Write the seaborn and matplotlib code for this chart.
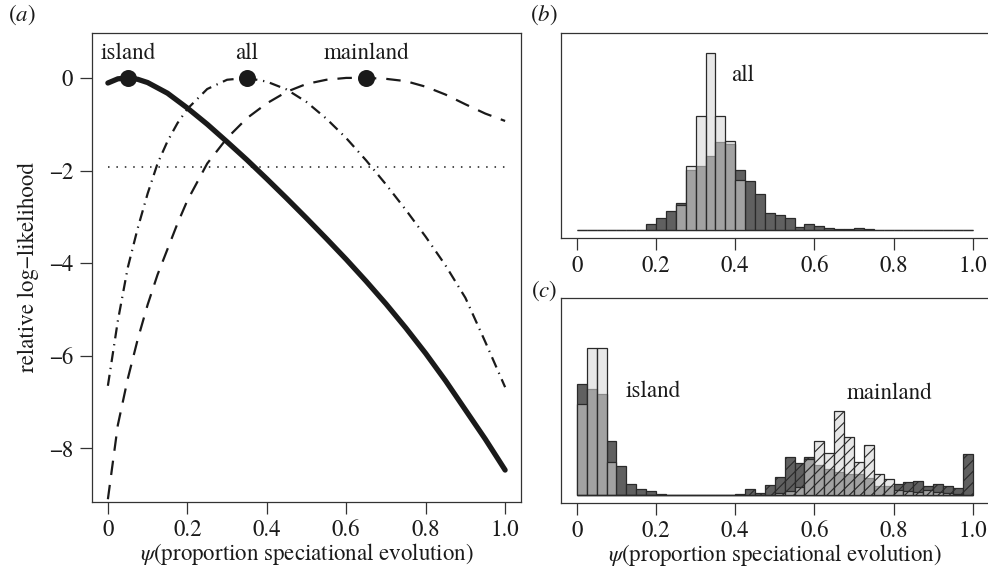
import numpy as np
import pandas as pd
import matplotlib
matplotlib.use("Agg")
import matplotlib.pyplot as plt
import seaborn as sns

# ---------------- data: panel (a) relative log-likelihood curves ----------------
psi_island = [0, 0.025, 0.05, 0.075, 0.1, 0.15, 0.2, 0.25, 0.3, 0.35, 0.4, 0.45,
              0.5, 0.55, 0.6, 0.65, 0.7, 0.75, 0.8, 0.85, 0.9, 0.95, 1.0]
ll_island = [-0.11, -0.02, 0.0, -0.03, -0.1, -0.33, -0.65, -1.0, -1.38, -1.77, -2.18, -2.6,
             -3.03, -3.47, -3.92, -4.39, -4.88, -5.4, -5.95, -6.54, -7.17, -7.8, -8.47]

psi_all = [0, 0.025, 0.05, 0.075, 0.1, 0.125, 0.15, 0.175, 0.2, 0.25, 0.3, 0.35, 0.4,
           0.45, 0.5, 0.55, 0.6, 0.65, 0.7, 0.75, 0.8, 0.85, 0.9, 0.95, 1.0]
ll_all = [-6.65, -5.25, -4.1, -3.25, -2.5, -1.85, -1.37, -0.98, -0.67, -0.24, -0.04, 0.0, -0.08,
          -0.25, -0.52, -0.88, -1.3, -1.78, -2.3, -2.85, -3.43, -4.05, -4.75, -5.7, -6.68]

psi_mainland = [0, 0.025, 0.05, 0.075, 0.1, 0.125, 0.15, 0.175, 0.2, 0.25, 0.3, 0.35, 0.4,
                0.45, 0.5, 0.55, 0.6, 0.65, 0.7, 0.75, 0.8, 0.85, 0.9, 0.95, 1.0]
ll_mainland = [-9.1, -7.5, -6.5, -5.65, -4.9, -4.25, -3.7, -3.15, -2.65, -1.85, -1.3, -0.87, -0.55,
               -0.3, -0.13, -0.04, 0.0, 0.0, -0.02, -0.07, -0.19, -0.36, -0.57, -0.77, -0.93]

peak_names = ["island", "all", "mainland"]
peak_psi = [0.05, 0.35, 0.65]
peak_ll = [0.0, 0.0, 0.0]
ci_threshold = -1.92

# ---------------- data: panels (b), (c) histograms (40 bins on [0, 1]) ----------------
n_bins = 40
bin_range = (0.0, 1.0)
bin_mids = [(i + 0.5) / n_bins for i in range(n_bins)]

all_dark = [0, 0, 0, 0, 0, 0, 0, 6.3, 11.7, 19, 27.3, 60.7, 64, 74, 88.7, 86.7, 60.7, 49.3,
            36, 17.3, 14.7, 12, 3.3, 5.7, 4.3, 2, 1, 0.7, 2, 1.3,
            0.3, 0.3, 0.3, 0.3, 0.3, 0.3, 0.3, 0.3, 0.3, 0.3]
all_light = [0, 0, 0, 0, 0, 0, 0, 0, 0, 0, 25.3, 64, 114, 178, 114, 89.3, 50.7, 0,
             0, 0, 0, 0, 0, 0, 0, 0, 0, 0, 0, 0, 0, 0, 0, 0, 0, 0, 0, 0, 0, 0]

island_dark = [111.3, 106.7, 101.7, 54, 29.7, 11, 5.7, 3.7, 1.3, 0.5, 0.5, 0.5, 0.5, 0.5,
               0.5, 0.5, 0.5, 0, 0, 0, 0, 0, 0, 0, 0, 0, 0, 0, 0, 0,
               0, 0, 0, 0, 0, 0, 0, 0, 0, 0]
island_light = [91.7, 147.3, 147.3, 33.3, 0, 0, 0, 0, 0, 0, 0, 0, 0, 0, 0, 0, 0, 0, 0, 0,
                0, 0, 0, 0, 0, 0, 0, 0, 0, 0, 0, 0, 0, 0, 0, 0, 0, 0, 0, 0]

mainland_dark = [0, 0, 0, 0, 0, 0, 0, 0, 0, 0, 0, 0, 0, 0, 0, 0, 0.7, 6.3, 2.3, 9.7,
                 18.7, 38.7, 32.7, 38, 30, 26, 23, 21, 21, 17,
                 9.5, 9.5, 10.7, 12.7, 14.3, 9.3, 10.7, 9.3, 6.7, 41]
mainland_light = [0, 0, 0, 0, 0, 0, 0, 0, 0, 0, 0, 0, 0, 0, 0, 0, 0, 0, 0, 0,
                  2, 4, 8, 36, 54.7, 42, 84.3, 58.7, 33.7, 50.3,
                  21, 16.5, 5, 4, 3, 5, 3, 2, 1, 0]

xticks = [0, 0.2, 0.4, 0.6, 0.8, 1.0]
xticklabels = ["0", "0.2", "0.4", "0.6", "0.8", "1.0"]
yticks = [0, -2, -4, -6, -8]
yticklabels = ["0", "\u22122", "\u22124", "\u22126", "\u22128"]

# ---------------- style ----------------
sns.set_style("white")
plt.rcParams["font.family"] = ["TeX Gyre Termes", "STIXGeneral", "DejaVu Serif"]
plt.rcParams["mathtext.fontset"] = "stix"
plt.rcParams["hatch.linewidth"] = 0.8
FS = 16.5
INK = "#1a1a1a"
SPINE = "#333333"
DARK = "#606060"
LIGHT = "#d6d6d6"
LIGHT_ALPHA = 0.566
EDGE = "#2a2a2a"

W, H = 988, 578
fig = plt.figure(figsize=(W / 100, H / 100), dpi=100)

def frac(l, t, r, b):
    return [l / W, 1 - b / H, (r - l) / W, (b - t) / H]

ax_a = fig.add_axes(frac(92, 33, 521, 502))
ax_b = fig.add_axes(frac(561, 33, 988.6, 237.7))
ax_c = fig.add_axes(frac(561, 298.3, 988.6, 502.7))

def style_axis(ax, yt=True):
    for s in ax.spines.values():
        s.set_color(SPINE)
        s.set_linewidth(0.9)
    ax.tick_params(axis="both", direction="out", length=8.6, width=0.9,
                   color=SPINE, labelsize=FS, labelcolor=INK, pad=4)
    ax.tick_params(axis="x", bottom=True)
    ax.tick_params(axis="y", left=yt, labelleft=yt, pad=5)
    ax.set_xlim(-0.04, 1.04)
    ax.set_xticks(xticks)
    ax.set_xticklabels(xticklabels)

# ---------------- panel (a) ----------------
sns.lineplot(x=psi_mainland, y=ll_mainland, ax=ax_a, color=INK, lw=1.6,
             linestyle=(0, (6.5, 4.5)))
sns.lineplot(x=psi_all, y=ll_all, ax=ax_a, color=INK, lw=1.6,
             linestyle=(0, (5, 2.6, 0.6, 2.6)))
sns.lineplot(x=psi_island, y=ll_island, ax=ax_a, color=INK, lw=3.8,
             solid_capstyle="round", solid_joinstyle="round")
ax_a.hlines(ci_threshold, 0, 1, colors=INK, linestyles=(0, (1, 4.5)), lw=1.1)
sns.scatterplot(x=peak_psi, y=peak_ll, ax=ax_a, color=INK, s=150, edgecolor=INK,
                linewidth=0, zorder=5)
for name, px, py in zip(peak_names, peak_psi, peak_ll):
    ax_a.text(px, py + 0.3, name, ha="center", va="bottom", fontsize=FS, color=INK)
style_axis(ax_a)
ax_a.set_ylim(-9.16, 0.97)
ax_a.set_yticks(yticks)
ax_a.set_yticklabels(yticklabels)
ax_a.set_ylabel("relative log\u2212likelihood", fontsize=FS, color=INK, labelpad=7)

# ---------------- histogram helper ----------------
def hist(ax, values, color, alpha, hatch=None):
    df = pd.DataFrame({"psi": bin_mids, "freq": np.asarray(values, dtype=float)})
    kws = dict(edgecolor=EDGE, linewidth=0.9)
    if hatch:
        kws["hatch"] = hatch
    sns.histplot(data=df, x="psi", weights="freq", bins=n_bins, binrange=bin_range,
                 ax=ax, color=color, alpha=alpha, **kws)

# panel (b)
hist(ax_b, all_dark, DARK, 1.0)
hist(ax_b, all_light, LIGHT, LIGHT_ALPHA)
ax_b.text(0.418, 155.7, "all", ha="center", va="center", fontsize=FS, color=INK)

# panel (c)
hist(ax_c, island_dark, DARK, 1.0)
hist(ax_c, island_light, LIGHT, LIGHT_ALPHA)
hist(ax_c, mainland_dark, DARK, 1.0, hatch="///")
hist(ax_c, mainland_light, LIGHT, LIGHT_ALPHA, hatch="///")
ax_c.text(0.193, 104, "island", ha="center", va="center", fontsize=FS, color=INK)
ax_c.text(0.79, 102.5, "mainland", ha="center", va="center", fontsize=FS, color=INK)

for ax in (ax_b, ax_c):
    style_axis(ax, yt=False)
    ax.set_ylim(-7.6, 197.6)
    ax.set_ylabel("")
    ax.set_xlabel("")
    ax.spines["right"].set_visible(False)

xlab = r"$\psi$(proportion speciational evolution)"
ax_a.set_xlabel(xlab, fontsize=FS, color=INK, labelpad=0)
ax_c.set_xlabel(xlab, fontsize=FS, color=INK, labelpad=0)

# panel letters
fig.text(8 / W, 1 - 15 / H, r"($a$)", fontsize=FS, color=INK, ha="left", va="center")
fig.text(530 / W, 1 - 15 / H, r"($b$)", fontsize=FS, color=INK, ha="left", va="center")
fig.text(531 / W, 1 - 291 / H, r"($c$)", fontsize=FS, color=INK, ha="left", va="center")

fig.savefig("out.png", dpi=100)
